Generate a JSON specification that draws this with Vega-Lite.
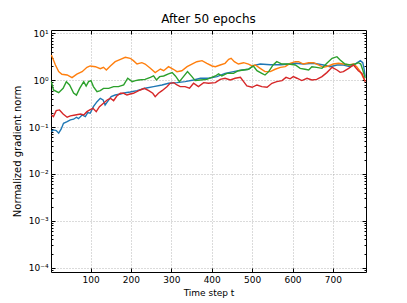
{
 "$schema": "https://vega.github.io/schema/vega-lite/v6.json",
 "width": 315, "height": 242,
 "autosize": {"type": "none"},
 "padding": {"left": 51, "top": 30, "right": 41, "bottom": 31},
 "title": {"text": "After 50 epochs", "fontSize": 12, "fontWeight": "normal", "font": "DejaVu Sans", "offset": 3, "color": "black"},
 "config": {
  "view": {"stroke": "black", "strokeWidth": 1},
  "font": "DejaVu Sans",
  "axis": {"domain": false, "tickColor": "black", "labelColor": "black", "titleColor": "black", "labelFont": "DejaVu Sans", "titleFont": "DejaVu Sans", "titleFontWeight": "normal", "labelFontSize": 9, "titleFontSize": 9}
 },
 "datasets": {
  "d": [
   {"s":"1","t":3,"v":0.080},{"s":"1","t":8,"v":0.087},{"s":"1","t":15,"v":0.084},{"s":"1","t":21,"v":0.074},{"s":"1","t":27,"v":0.090},{"s":"1","t":33,"v":0.120},{"s":"1","t":42,"v":0.130},{"s":"1","t":50,"v":0.142},{"s":"1","t":58,"v":0.147},{"s":"1","t":65,"v":0.162},{"s":"1","t":70,"v":0.151},{"s":"1","t":79,"v":0.181},{"s":"1","t":87,"v":0.167},{"s":"1","t":93,"v":0.203},{"s":"1","t":99,"v":0.197},{"s":"1","t":107,"v":0.272},{"s":"1","t":116,"v":0.348},{"s":"1","t":124,"v":0.411},{"s":"1","t":131,"v":0.378},{"s":"1","t":136,"v":0.296},{"s":"1","t":142,"v":0.348},{"s":"1","t":151,"v":0.445},{"s":"1","t":161,"v":0.483},{"s":"1","t":174,"v":0.508},{"s":"1","t":186,"v":0.541},{"s":"1","t":198,"v":0.56},{"s":"1","t":215,"v":0.597},{"s":"1","t":235,"v":0.672},{"s":"1","t":256,"v":0.727},{"s":"1","t":277,"v":0.79},{"s":"1","t":293,"v":0.859},{"s":"1","t":314,"v":0.885},{"s":"1","t":334,"v":0.93},{"s":"1","t":355,"v":1.01},{"s":"1","t":372,"v":1.10},{"s":"1","t":392,"v":1.10},{"s":"1","t":413,"v":1.19},{"s":"1","t":433,"v":1.40},{"s":"1","t":454,"v":1.52},{"s":"1","t":475,"v":1.65},{"s":"1","t":491,"v":1.71},{"s":"1","t":503,"v":2.05},{"s":"1","t":520,"v":2.21},{"s":"1","t":545,"v":2.14},{"s":"1","t":570,"v":2.14},{"s":"1","t":594,"v":2.21},{"s":"1","t":607,"v":2.29},{"s":"1","t":627,"v":2.21},{"s":"1","t":652,"v":2.29},{"s":"1","t":677,"v":2.11},{"s":"1","t":693,"v":1.94},{"s":"1","t":710,"v":2.11},{"s":"1","t":726,"v":2.11},{"s":"1","t":743,"v":1.94},{"s":"1","t":755,"v":2.21},{"s":"1","t":768,"v":2.6},{"s":"1","t":774,"v":2.36},{"s":"1","t":777,"v":1.79},{"s":"1","t":780,"v":1.19},
   {"s":"2","t":3,"v":3.45},{"s":"2","t":13,"v":2.11},{"s":"2","t":21,"v":1.52},{"s":"2","t":29,"v":1.34},{"s":"2","t":42,"v":1.29},{"s":"2","t":54,"v":1.13},{"s":"2","t":66,"v":1.34},{"s":"2","t":79,"v":1.52},{"s":"2","t":91,"v":1.88},{"s":"2","t":99,"v":2.01},{"s":"2","t":112,"v":1.94},{"s":"2","t":124,"v":1.76},{"s":"2","t":132,"v":1.88},{"s":"2","t":139,"v":1.65},{"s":"2","t":149,"v":2.01},{"s":"2","t":161,"v":2.48},{"s":"2","t":174,"v":2.79},{"s":"2","t":186,"v":3.08},{"s":"2","t":198,"v":2.93},{"s":"2","t":206,"v":2.61},{"s":"2","t":215,"v":2.21},{"s":"2","t":227,"v":2.36},{"s":"2","t":235,"v":2.21},{"s":"2","t":248,"v":1.79},{"s":"2","t":260,"v":1.45},{"s":"2","t":273,"v":1.73},{"s":"2","t":281,"v":1.59},{"s":"2","t":293,"v":1.94},{"s":"2","t":305,"v":1.71},{"s":"2","t":314,"v":1.52},{"s":"2","t":326,"v":1.59},{"s":"2","t":339,"v":1.94},{"s":"2","t":351,"v":2.21},{"s":"2","t":363,"v":2.48},{"s":"2","t":376,"v":2.61},{"s":"2","t":388,"v":2.29},{"s":"2","t":401,"v":2.01},{"s":"2","t":409,"v":1.94},{"s":"2","t":421,"v":2.11},{"s":"2","t":433,"v":2.29},{"s":"2","t":442,"v":2.79},{"s":"2","t":448,"v":2.93},{"s":"2","t":456,"v":2.48},{"s":"2","t":466,"v":2.21},{"s":"2","t":479,"v":2.36},{"s":"2","t":491,"v":2.21},{"s":"2","t":500,"v":2.01},{"s":"2","t":508,"v":2.11},{"s":"2","t":520,"v":1.79},{"s":"2","t":532,"v":1.52},{"s":"2","t":545,"v":1.52},{"s":"2","t":557,"v":1.71},{"s":"2","t":570,"v":1.88},{"s":"2","t":582,"v":1.94},{"s":"2","t":594,"v":2.29},{"s":"2","t":607,"v":2.48},{"s":"2","t":615,"v":2.48},{"s":"2","t":627,"v":2.21},{"s":"2","t":640,"v":2.36},{"s":"2","t":652,"v":2.36},{"s":"2","t":664,"v":2.11},{"s":"2","t":677,"v":1.88},{"s":"2","t":689,"v":2.01},{"s":"2","t":701,"v":2.21},{"s":"2","t":714,"v":2.29},{"s":"2","t":726,"v":2.21},{"s":"2","t":739,"v":2.11},{"s":"2","t":751,"v":2.21},{"s":"2","t":759,"v":1.94},{"s":"2","t":768,"v":1.52},{"s":"2","t":774,"v":1.19},{"s":"2","t":780,"v":0.95},
   {"s":"3","t":3,"v":0.93},{"s":"3","t":8,"v":0.62},{"s":"3","t":21,"v":0.54},{"s":"3","t":32,"v":0.67},{"s":"3","t":40,"v":0.93},{"s":"3","t":48,"v":0.79},{"s":"3","t":58,"v":0.53},{"s":"3","t":65,"v":0.48},{"s":"3","t":73,"v":0.67},{"s":"3","t":83,"v":0.93},{"s":"3","t":89,"v":0.75},{"s":"3","t":95,"v":0.93},{"s":"3","t":101,"v":0.98},{"s":"3","t":107,"v":0.73},{"s":"3","t":116,"v":0.57},{"s":"3","t":124,"v":0.60},{"s":"3","t":132,"v":0.67},{"s":"3","t":145,"v":0.67},{"s":"3","t":157,"v":0.73},{"s":"3","t":169,"v":0.73},{"s":"3","t":182,"v":0.79},{"s":"3","t":192,"v":1.10},{"s":"3","t":203,"v":0.93},{"s":"3","t":211,"v":0.98},{"s":"3","t":219,"v":1.01},{"s":"3","t":235,"v":1.04},{"s":"3","t":248,"v":1.15},{"s":"3","t":256,"v":1.23},{"s":"3","t":263,"v":1.01},{"s":"3","t":271,"v":1.19},{"s":"3","t":281,"v":1.23},{"s":"3","t":293,"v":1.36},{"s":"3","t":302,"v":1.45},{"s":"3","t":310,"v":1.23},{"s":"3","t":320,"v":0.93},{"s":"3","t":330,"v":1.19},{"s":"3","t":340,"v":1.52},{"s":"3","t":351,"v":1.19},{"s":"3","t":359,"v":0.98},{"s":"3","t":372,"v":1.01},{"s":"3","t":388,"v":1.04},{"s":"3","t":409,"v":1.23},{"s":"3","t":417,"v":1.36},{"s":"3","t":425,"v":1.23},{"s":"3","t":438,"v":1.40},{"s":"3","t":454,"v":1.40},{"s":"3","t":466,"v":1.59},{"s":"3","t":479,"v":1.65},{"s":"3","t":491,"v":1.71},{"s":"3","t":503,"v":2.01},{"s":"3","t":512,"v":1.59},{"s":"3","t":524,"v":1.40},{"s":"3","t":532,"v":1.29},{"s":"3","t":541,"v":1.52},{"s":"3","t":552,"v":2.11},{"s":"3","t":561,"v":2.48},{"s":"3","t":574,"v":2.21},{"s":"3","t":590,"v":2.21},{"s":"3","t":607,"v":2.11},{"s":"3","t":619,"v":1.79},{"s":"3","t":631,"v":1.71},{"s":"3","t":640,"v":1.65},{"s":"3","t":648,"v":1.94},{"s":"3","t":660,"v":1.88},{"s":"3","t":673,"v":1.79},{"s":"3","t":685,"v":2.29},{"s":"3","t":698,"v":2.93},{"s":"3","t":710,"v":3.17},{"s":"3","t":718,"v":2.70},{"s":"3","t":730,"v":2.21},{"s":"3","t":743,"v":2.11},{"s":"3","t":755,"v":2.21},{"s":"3","t":763,"v":2.36},{"s":"3","t":769,"v":2.21},{"s":"3","t":774,"v":1.65},{"s":"3","t":780,"v":1.10},
   {"s":"4","t":3,"v":0.181},{"s":"4","t":8,"v":0.167},{"s":"4","t":15,"v":0.224},{"s":"4","t":23,"v":0.232},{"s":"4","t":32,"v":0.19},{"s":"4","t":42,"v":0.162},{"s":"4","t":50,"v":0.173},{"s":"4","t":62,"v":0.181},{"s":"4","t":75,"v":0.19},{"s":"4","t":83,"v":0.181},{"s":"4","t":91,"v":0.213},{"s":"4","t":98,"v":0.232},{"s":"4","t":106,"v":0.252},{"s":"4","t":114,"v":0.213},{"s":"4","t":122,"v":0.272},{"s":"4","t":132,"v":0.322},{"s":"4","t":141,"v":0.378},{"s":"4","t":149,"v":0.411},{"s":"4","t":157,"v":0.366},{"s":"4","t":165,"v":0.46},{"s":"4","t":174,"v":0.526},{"s":"4","t":182,"v":0.526},{"s":"4","t":190,"v":0.483},{"s":"4","t":198,"v":0.508},{"s":"4","t":206,"v":0.526},{"s":"4","t":223,"v":0.618},{"s":"4","t":233,"v":0.672},{"s":"4","t":244,"v":0.597},{"s":"4","t":254,"v":0.526},{"s":"4","t":260,"v":0.445},{"s":"4","t":268,"v":0.526},{"s":"4","t":277,"v":0.597},{"s":"4","t":289,"v":0.727},{"s":"4","t":297,"v":0.859},{"s":"4","t":306,"v":0.885},{"s":"4","t":314,"v":0.79},{"s":"4","t":322,"v":0.727},{"s":"4","t":334,"v":0.727},{"s":"4","t":345,"v":0.672},{"s":"4","t":355,"v":0.859},{"s":"4","t":367,"v":0.727},{"s":"4","t":380,"v":0.885},{"s":"4","t":392,"v":0.859},{"s":"4","t":409,"v":0.885},{"s":"4","t":421,"v":1.04},{"s":"4","t":433,"v":1.10},{"s":"4","t":446,"v":1.01},{"s":"4","t":458,"v":1.10},{"s":"4","t":471,"v":1.15},{"s":"4","t":479,"v":0.93},{"s":"4","t":487,"v":0.752},{"s":"4","t":500,"v":0.706},{"s":"4","t":512,"v":0.79},{"s":"4","t":524,"v":0.727},{"s":"4","t":537,"v":0.706},{"s":"4","t":549,"v":0.859},{"s":"4","t":561,"v":0.93},{"s":"4","t":574,"v":0.98},{"s":"4","t":584,"v":1.15},{"s":"4","t":594,"v":1.07},{"s":"4","t":602,"v":1.19},{"s":"4","t":611,"v":1.10},{"s":"4","t":623,"v":0.98},{"s":"4","t":636,"v":1.10},{"s":"4","t":648,"v":1.01},{"s":"4","t":660,"v":1.04},{"s":"4","t":673,"v":1.19},{"s":"4","t":685,"v":1.45},{"s":"4","t":698,"v":1.88},{"s":"4","t":710,"v":1.65},{"s":"4","t":718,"v":1.47},{"s":"4","t":726,"v":1.52},{"s":"4","t":739,"v":1.79},{"s":"4","t":751,"v":2.11},{"s":"4","t":763,"v":1.59},{"s":"4","t":772,"v":1.40},{"s":"4","t":780,"v":0.93}
  ]
 },
 "data": {"name": "d"},
 "layer": [
  {
   "mark": {"type": "line", "strokeWidth": 1.4},
   "encoding": {
    "x": {"field": "t", "type": "quantitative", "scale": {"domain": [2, 782], "nice": false, "zero": false},
      "axis": {"orient": "bottom", "values": [100,200,300,400,500,600,700], "grid": true, "gridColor": "#999999", "gridDash": [1,2], "gridWidth": 0.7, "tickSize": -4, "labelPadding": 7, "title": "Time step t", "titlePadding": 4, "titleFontSize": 9}},
    "y": {"field": "v", "type": "quantitative", "scale": {"type": "log", "domain": [0.000081, 11.76], "nice": false},
      "axis": {"orient": "left", "values": [0.0001,0.001,0.01,0.1,1,10], "grid": true, "gridColor": "#999999", "gridDash": [1,2], "gridWidth": 0.7, "tickSize": -4, "labelPadding": 7,
        "labelExpr": "'10' + (datum.value < 1 ? '⁻' : '') + ['⁰','¹','²','³','⁴'][abs(round(log(datum.value)/LN10))]",
        "title": "Normalized gradient norm", "titlePadding": 6, "titleFontSize": 10}},
    "color": {"field": "s", "type": "nominal", "scale": {"domain": ["1","2","3","4"], "range": ["#1f77b4","#ff7f0e","#2ca02c","#d62728"]}, "legend": null}
   }
  },
  {
   "mark": {"type": "line", "opacity": 0},
   "encoding": {
    "x": {"field": "t", "type": "quantitative", "axis": {"orient": "top", "values": [100,200,300,400,500,600,700], "labels": false, "grid": false, "tickSize": -4, "title": null}},
    "y": {"field": "v", "type": "quantitative", "axis": {"orient": "right", "values": [0.0001,0.001,0.01,0.1,1,10], "labels": false, "grid": false, "tickSize": -4, "title": null}}
   }
  },
  {
   "mark": {"type": "line", "opacity": 0},
   "encoding": {
    "x": {"field": "t", "type": "quantitative", "axis": null},
    "y": {"field": "v", "type": "quantitative", "axis": {"orient": "left", "values": [0.00009,0.0002,0.0003,0.0004,0.0005,0.0006,0.0007,0.0008,0.0009,0.002,0.003,0.004,0.005,0.006,0.007,0.008,0.009,0.02,0.03,0.04,0.05,0.06,0.07,0.08,0.09,0.2,0.3,0.4,0.5,0.6,0.7,0.8,0.9,2,3,4,5,6,7,8,9], "labels": false, "grid": false, "tickSize": -2, "title": null}}
   }
  },
  {
   "mark": {"type": "line", "opacity": 0},
   "encoding": {
    "x": {"field": "t", "type": "quantitative", "axis": null},
    "y": {"field": "v", "type": "quantitative", "axis": {"orient": "right", "values": [0.00009,0.0002,0.0003,0.0004,0.0005,0.0006,0.0007,0.0008,0.0009,0.002,0.003,0.004,0.005,0.006,0.007,0.008,0.009,0.02,0.03,0.04,0.05,0.06,0.07,0.08,0.09,0.2,0.3,0.4,0.5,0.6,0.7,0.8,0.9,2,3,4,5,6,7,8,9], "labels": false, "grid": false, "tickSize": -2, "title": null}}
   }
  }
 ],
 "resolve": {"axis": {"x": "independent", "y": "independent"}}
}
